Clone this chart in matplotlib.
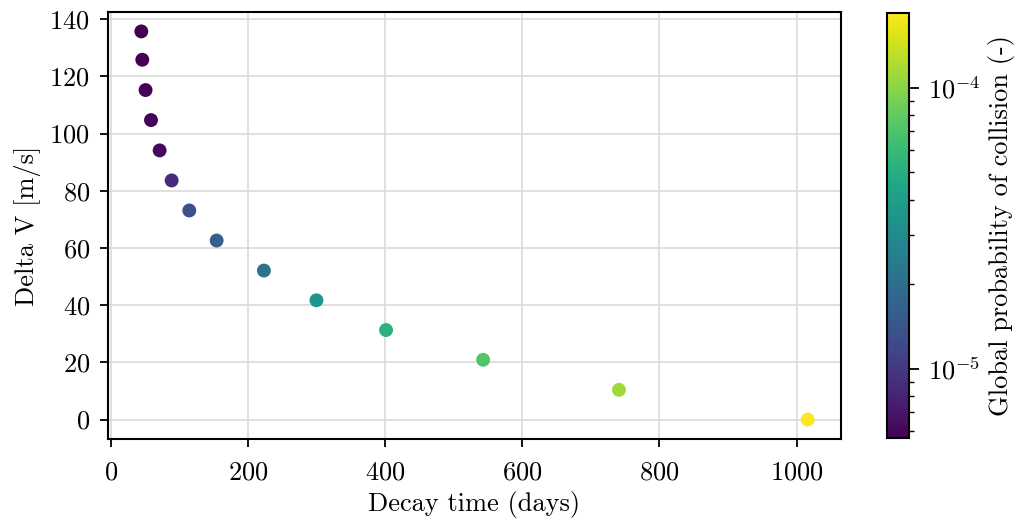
import matplotlib
matplotlib.use("Agg")
import matplotlib.pyplot as plt
from matplotlib.colors import LogNorm
import numpy as np

plt.rcParams['font.family'] = ['cmr10', 'DejaVu Serif']
plt.rcParams['mathtext.fontset'] = 'cm'
plt.rcParams['axes.formatter.use_mathtext'] = True
plt.rcParams['axes.unicode_minus'] = False

decay_time = [44.8, 46.2, 51.0, 58.9, 71.5, 89.0, 114.7, 154.6, 223.5, 300.0,
              401.5, 543.0, 741.0, 1016.0]
delta_v = [135.7, 125.8, 115.2, 104.7, 94.1, 83.6, 73.1, 62.6, 52.1, 41.7,
           31.3, 20.9, 10.4, 0.0]
prob_collision = [5.70e-6, 5.74e-6, 5.80e-6, 5.90e-6, 6.11e-6, 8.65e-6, 1.315e-5,
                  1.62e-5, 2.065e-5, 3.48e-5, 5.29e-5, 7.23e-5, 1.117e-4, 1.85e-4]

FS = 19
W, H = 1022, 523
fig = plt.figure(figsize=(W / 100, H / 100), dpi=100)
ax = fig.add_axes([108 / W, 1 - 439 / H, (841 - 108) / W, (439 - 12) / H])
cax = fig.add_axes([887 / W, 1 - 437.5 / H, (909 - 887) / W, (437.5 - 12.5) / H])

sc = ax.scatter(decay_time, delta_v, c=prob_collision, cmap='viridis',
                norm=LogNorm(vmin=min(prob_collision), vmax=max(prob_collision)),
                s=100, zorder=3, linewidths=0)
ax.grid(True, color='#dadada', linewidth=1.2, zorder=0)
ax.set_axisbelow(True)
ax.set_xlabel('Decay time (days)', fontsize=FS, labelpad=4)
ax.set_ylabel('Delta V [m/s]', fontsize=FS, labelpad=6)
ax.tick_params(labelsize=FS, length=6, width=1.3)
ax.tick_params(axis='x', pad=10)
ax.tick_params(axis='y', pad=7)
for sp in ax.spines.values():
    sp.set_linewidth(1.5)
ax.set_yticks(np.arange(0, 141, 20))

cb = fig.colorbar(sc, cax=cax)
cb.set_label('Global probability of collision (-)', fontsize=FS, labelpad=5)
cb.ax.tick_params(labelsize=FS, which='major', length=7, width=1.3, pad=7)
cb.ax.tick_params(which='minor', length=3.5, width=1.0)
cb.outline.set_linewidth(1.5)

fig.savefig('out.png', dpi=100)
